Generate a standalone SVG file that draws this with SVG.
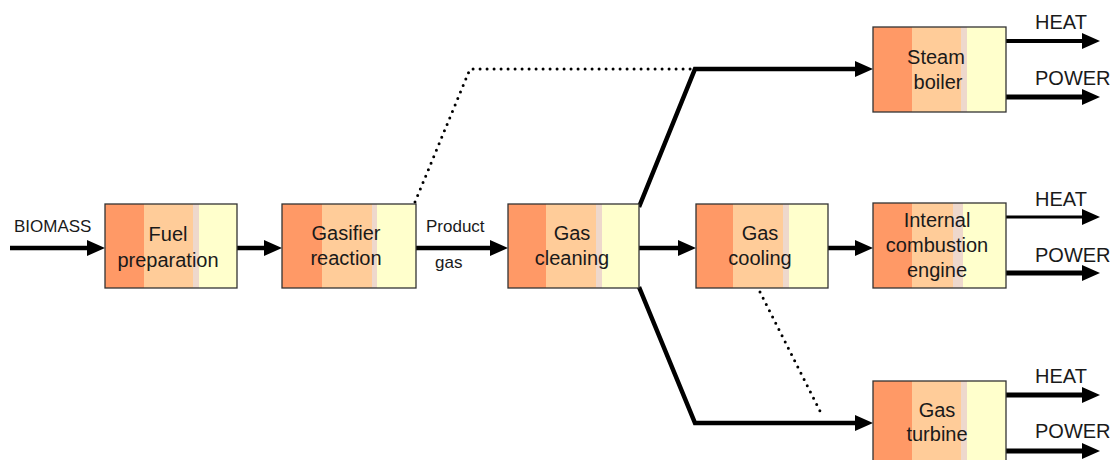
<svg xmlns="http://www.w3.org/2000/svg" width="1114" height="460" viewBox="0 0 1114 460">
<style>
.t{font-family:"Liberation Sans",Arial,sans-serif;font-size:20px;fill:#1a1a1a;text-anchor:middle}
.s{font-family:"Liberation Sans",Arial,sans-serif;font-size:17px;fill:#1a1a1a}
.o{font-family:"Liberation Sans",Arial,sans-serif;font-size:20px;fill:#1a1a1a}
.a{stroke:#000;stroke-width:4.5;fill:none;marker-end:url(#ah)}
.d{stroke:#000;stroke-width:3;fill:none;stroke-dasharray:0 7;stroke-linecap:round}
.b{fill:none;stroke:#333;stroke-width:1.3}
.c1{fill:#FF9966}.c2{fill:#FFCC99}.c3{fill:#EED8CC}.c4{fill:#FFFFCC}
</style>
<defs>
<marker id="ah" viewBox="0 0 18 16" refX="8" refY="8" markerWidth="18" markerHeight="16" markerUnits="userSpaceOnUse" orient="auto">
<path d="M0,0 L18,8 L0,16 z" fill="#000"/>
</marker>
</defs>
<rect width="1114" height="460" fill="#fff"/>
<g id="connectors">
<line class="a" x1="10" y1="248" x2="95" y2="248"/>
<line class="a" x1="237" y1="248" x2="272" y2="248"/>
<line class="a" x1="414" y1="248" x2="498" y2="248"/>
<line class="a" x1="639" y1="248" x2="686" y2="248"/>
<line class="a" x1="828" y1="248" x2="863" y2="248"/>
<polyline class="a" points="639,207 695,69 863,69"/>
<polyline class="a" points="639,287 695,423 863,423"/>
<polyline class="d" points="415,202 470,69 695,69"/>
<line class="d" x1="760" y1="292" x2="823" y2="417"/>
<line class="a" style="stroke-width:4" x1="1004" y1="41" x2="1090" y2="41"/>
<line class="a" style="stroke-width:5" x1="1004" y1="97" x2="1090" y2="97"/>
<line class="a" style="stroke-width:3" x1="1004" y1="217" x2="1090" y2="217"/>
<line class="a" style="stroke-width:5" x1="1004" y1="273" x2="1090" y2="273"/>
<line class="a" style="stroke-width:5" x1="1004" y1="395" x2="1090" y2="395"/>
<line class="a" style="stroke-width:5" x1="1004" y1="451" x2="1090" y2="451"/>
<text class="s" x="14" y="232">BIOMASS</text>
<text class="s" x="426" y="232">Product</text>
<text class="s" x="435" y="268">gas</text>
<text class="o" x="1035" y="29">HEAT</text>
<text class="o" x="1035" y="85">POWER</text>
<text class="o" x="1035" y="206">HEAT</text>
<text class="o" x="1035" y="262">POWER</text>
<text class="o" x="1035" y="383">HEAT</text>
<text class="o" x="1035" y="438">POWER</text>
</g>
<g id="fuel">
<rect class="c1" x="105" y="204" width="39" height="84"/><rect class="c2" x="144" y="204" width="49" height="84"/><rect class="c3" x="193" y="204" width="6" height="84"/><rect class="c4" x="199" y="204" width="38" height="84"/>
<rect class="b" x="105" y="204" width="132" height="84"/>
<text class="t" x="168" y="241">Fuel</text><text class="t" x="168" y="267">preparation</text>
</g>
<g id="gasifier">
<rect class="c1" x="282" y="204" width="40" height="84"/><rect class="c2" x="322" y="204" width="50" height="84"/><rect class="c3" x="372" y="204" width="5" height="84"/><rect class="c4" x="377" y="204" width="39" height="84"/>
<rect class="b" x="282" y="204" width="134" height="84"/>
<text class="t" x="346" y="240">Gasifier</text><text class="t" x="346" y="265">reaction</text>
</g>
<g id="cleaning">
<rect class="c1" x="508" y="204" width="38" height="84"/><rect class="c2" x="546" y="204" width="50" height="84"/><rect class="c3" x="596" y="204" width="6" height="84"/><rect class="c4" x="602" y="204" width="37" height="84"/>
<rect class="b" x="508" y="204" width="131" height="84"/>
<text class="t" x="572" y="240">Gas</text><text class="t" x="572" y="265">cleaning</text>
</g>
<g id="cooling">
<rect class="c1" x="696" y="204" width="37" height="84"/><rect class="c2" x="733" y="204" width="50" height="84"/><rect class="c3" x="783" y="204" width="6" height="84"/><rect class="c4" x="789" y="204" width="39" height="84"/>
<rect class="b" x="696" y="204" width="132" height="84"/>
<text class="t" x="760" y="240">Gas</text><text class="t" x="760" y="265">cooling</text>
</g>
<g id="boiler">
<rect class="c1" x="873" y="27" width="39" height="85"/><rect class="c2" x="912" y="27" width="49" height="85"/><rect class="c3" x="961" y="27" width="6" height="85"/><rect class="c4" x="967" y="27" width="39" height="85"/>
<rect class="b" x="873" y="27" width="133" height="85"/>
<text class="t" x="936" y="64">Steam</text><text class="t" x="938" y="89">boiler</text>
</g>
<g id="engine">
<rect class="c1" x="873" y="203" width="39" height="85"/><rect class="c2" x="912" y="203" width="41" height="85"/><rect class="c3" x="953" y="203" width="10" height="85"/><rect class="c4" x="963" y="203" width="43" height="85"/>
<rect class="b" x="873" y="203" width="133" height="85"/>
<text class="t" x="937" y="227">Internal</text><text class="t" x="937" y="252">combustion</text><text class="t" x="937" y="277">engine</text>
</g>
<g id="turbine">
<rect class="c1" x="873" y="381" width="39" height="85"/><rect class="c2" x="912" y="381" width="49" height="85"/><rect class="c3" x="961" y="381" width="6" height="85"/><rect class="c4" x="967" y="381" width="39" height="85"/>
<rect class="b" x="873" y="381" width="133" height="85"/>
<text class="t" x="937" y="417">Gas</text><text class="t" x="937" y="441">turbine</text>
</g>
</svg>
